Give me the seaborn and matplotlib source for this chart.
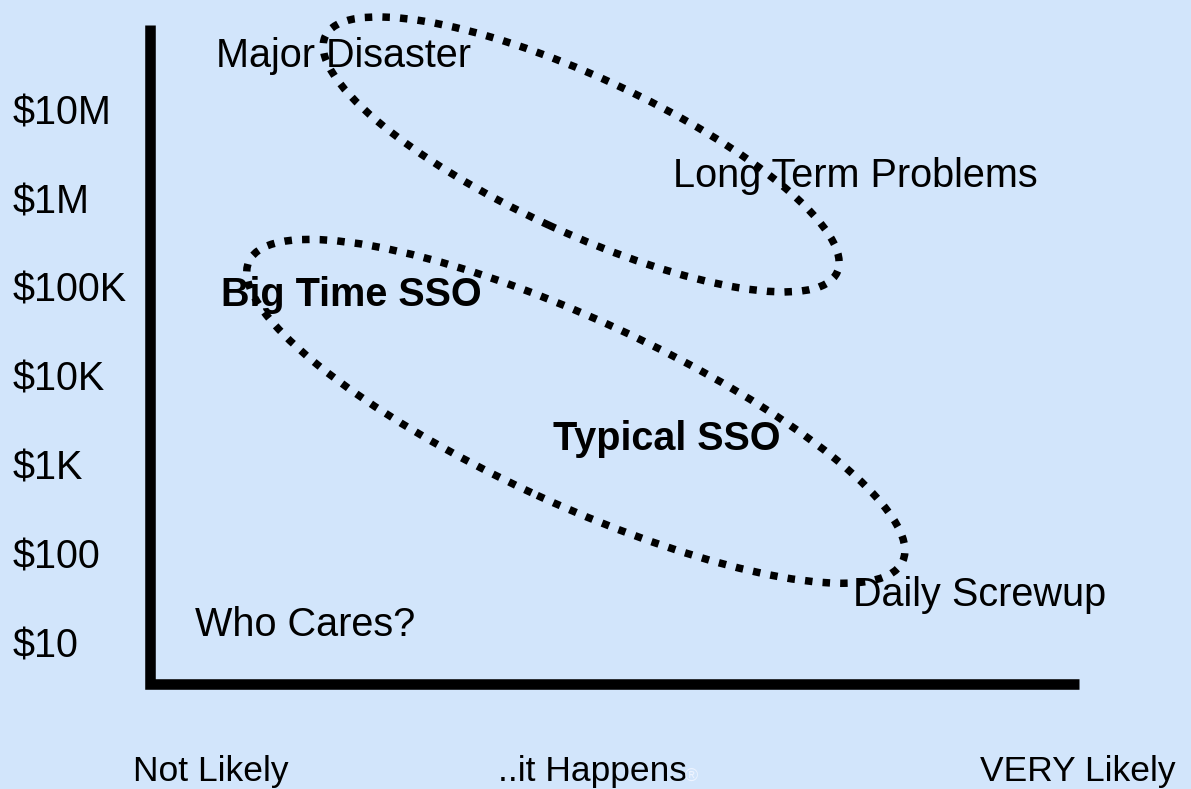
import matplotlib
matplotlib.use("Agg")
import matplotlib.pyplot as plt
from matplotlib.patches import Ellipse
import seaborn as sns

# cost axis (log10 of dollars) and its labels
cost_levels = [1, 2, 3, 4, 5, 6, 7]
cost_labels = ['$10', '$100', '$1K', '$10K', '$100K', '$1M', '$10M']

# likelihood axis labels (likelihood units, left edge of the text)
likelihood_labels = ['Not Likely', '..it Happens', 'VERY Likely']
likelihood_pos = [-0.19, 3.91, 9.34]

# named regions: likelihood, log10 cost, bold?
region_names = ['Major Disaster', 'Long Term Problems', 'Big Time SSO',
                'Typical SSO', 'Daily Screwup', 'Who Cares?']
region_x = [0.74, 5.88, 0.80, 4.53, 7.91, 0.51]
region_y = [7.64, 6.29, 4.96, 3.34, 1.58, 1.24]
region_bold = [False, False, True, True, False, False]

# the two dotted groupings: center x, center y, width, height, angle
group_cx = [4.85, 4.79]
group_cy = [6.66, 3.77]
group_w = [6.34, 8.09]
group_h = [1.75, 2.08]
group_angle = [-24.75, -24.65]

sns.set_theme(style='white')
plt.rcParams['font.family'] = ['Liberation Sans', 'DejaVu Sans']

bg = '#d2e5fb'
fig = plt.figure(figsize=(11.91, 7.89), dpi=100, facecolor=bg)
ax = fig.add_axes([0, 0, 1, 1])
ax.set_facecolor(bg)
ax.set_xlim(-1.687, 11.710)
ax.set_ylim(-0.478, 8.397)
ax.axis('off')

# L shaped axes
ax.plot([0, 0, 10.45], [8.12, 0.70, 0.70], color='black', lw=7.6,
        solid_joinstyle='miter', solid_capstyle='butt')

for cx, cy, w, h, a in zip(group_cx, group_cy, group_w, group_h, group_angle):
    e = Ellipse((cx, cy), w, h, angle=a, fill=False, edgecolor='black',
                lw=5.4, linestyle=(0, (1.0, 1.35)), capstyle='butt', zorder=5)
    ax.add_patch(e)

for v, lab in zip(cost_levels, cost_labels):
    ax.text(-1.541, v, lab, fontsize=28.5, color='black', ha='left', va='baseline')

for u, lab in zip(likelihood_pos, likelihood_labels):
    ax.text(u, -0.388, lab, fontsize=25.5, color='black', ha='left', va='baseline')
ax.text(6.02, -0.388, '\u00ae', fontsize=13, color='#eef4ff', ha='left', va='baseline')

for name, x, y, b in zip(region_names, region_x, region_y, region_bold):
    ax.text(x, y, name, fontsize=28.5, color='black', ha='left', va='baseline',
            fontweight='bold' if b else 'normal', zorder=3)

fig.savefig('out.png', dpi=100, facecolor=bg)
